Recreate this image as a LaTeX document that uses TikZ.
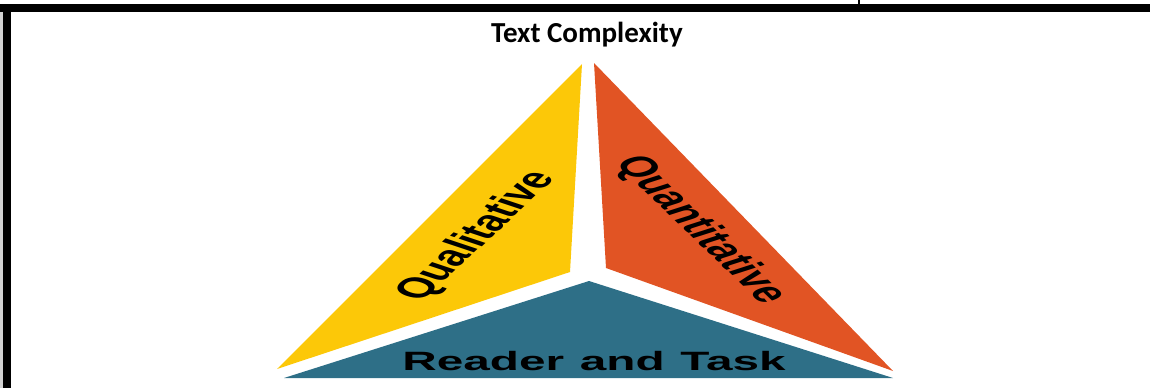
\documentclass[tikz,border=0pt]{standalone}
\usepackage{fontspec}
\setmainfont{Liberation Sans}
\newfontfamily\titlefont{Carlito}
\definecolor{qualyellow}{RGB}{252,200,8}
\definecolor{quantorange}{RGB}{225,84,36}
\definecolor{readerteal}{RGB}{46,111,135}
\definecolor{edgegray}{RGB}{210,210,210}
\begin{document}
\begin{tikzpicture}[x=1pt,y=-1pt,
  piecetext/.style={font=\fontsize{28.5}{28.5}\selectfont\bfseries, inner sep=0pt}]
\useasboundingbox (0,0) rectangle (1150,388);
% table rules
\fill[edgegray] (0,12) rectangle (3,388);
\fill (0,4) rectangle (1150,12);
\fill (3,12) rectangle (11,388);
\fill (858,0) rectangle (860,4);
\node[font=\titlefont\fontsize{29}{29}\selectfont\bfseries, anchor=base] (title) at (587,42) {Text Complexity};
% the three pieces
\fill[qualyellow] (582,64) -- (570,272) -- (277,369) -- cycle;
\fill[quantorange] (594,63) -- (606,268) -- (893,371) -- cycle;
\fill[readerteal] (589,281) -- (893,378) -- (284,378) -- cycle;
\begin{scope}[shift={(587,0)}, xscale=1.8, transform shape]
\node[piecetext, rotate=59] (qual) at (-61,236) {Qualitative};
\node[piecetext, rotate=-60] (quant) at (63,230) {Quantitative};
\node[piecetext, font=\fontsize{26.5}{26.5}\selectfont\bfseries, anchor=base] (reader) at (3.9,370) {Reader\hspace{.33em}and\hspace{.33em}Task};
\end{scope}
\end{tikzpicture}
\end{document}
